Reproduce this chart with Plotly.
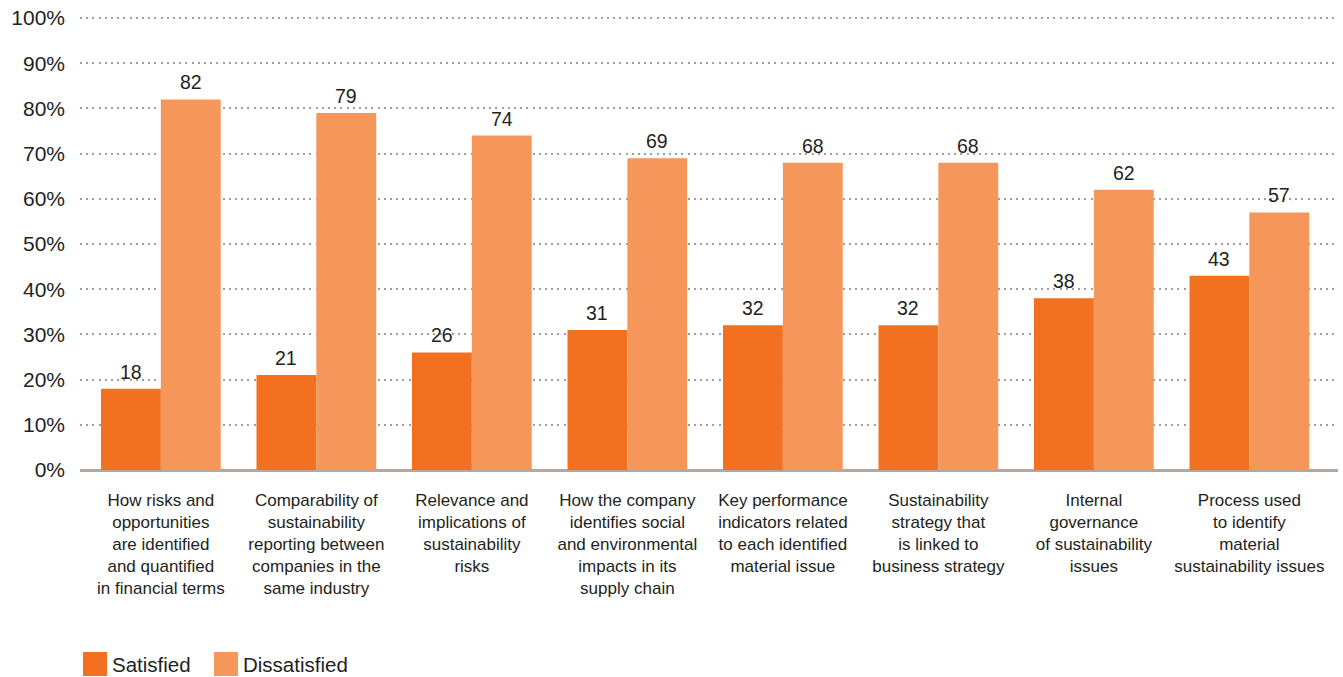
import plotly.graph_objects as go

categories = [
    "How risks and<br>opportunities<br>are identified<br>and quantified<br>in financial terms",
    "Comparability of<br>sustainability<br>reporting between<br>companies in the<br>same industry",
    "Relevance and<br>implications of<br>sustainability<br>risks",
    "How the company<br>identifies social<br>and environmental<br>impacts in its<br>supply chain",
    "Key performance<br>indicators related<br>to each identified<br>material issue",
    "Sustainability<br>strategy that<br>is linked to<br>business strategy",
    "Internal<br>governance<br>of sustainability<br>issues",
    "Process used<br>to identify<br>material<br>sustainability issues",
]
satisfied = [18, 21, 26, 31, 32, 32, 38, 43]
dissatisfied = [82, 79, 74, 69, 68, 68, 62, 57]
series_names = ["Satisfied", "Dissatisfied"]
colors = ["#F37021", "#F5965A"]
y_ticks = list(range(0, 101, 10))
y_tick_labels = [f"{t}%" for t in y_ticks]

FONT = "Liberation Sans, Arial, Helvetica, sans-serif"
TXT = "#231F20"
BARGAP = 0.23
half = (1 - BARGAP) / 4  # centre offset of each bar in a group

fig = go.Figure()
xs = list(range(len(categories)))
for k, (name, vals, col) in enumerate(zip(series_names, [satisfied, dissatisfied], colors)):
    fig.add_trace(go.Bar(
        x=xs, y=vals, name=name,
        marker=dict(color=col, line=dict(width=0)),
        showlegend=False, hoverinfo="y+name",
    ))
    off = -half if k == 0 else half
    for i, v in zip(xs, vals):
        fig.add_annotation(x=i + off, y=v, text=str(v), showarrow=False,
                           xanchor="center", yanchor="bottom", yshift=4,
                           font=dict(size=19.5, color=TXT, family=FONT))

fig.update_layout(
    width=1343, height=677,
    margin=dict(l=80, r=5, t=16, b=207),
    paper_bgcolor="white", plot_bgcolor="white",
    barmode="group", bargap=BARGAP, bargroupgap=0,
    font=dict(family=FONT, color=TXT),
    xaxis=dict(
        tickmode="array", tickvals=xs, ticktext=categories,
        range=[-0.52, 7.57], showgrid=False, zeroline=False, showline=False,
        tickfont=dict(size=17, color=TXT, family=FONT), tickangle=0,
        ticks="", ticklabelstandoff=18,
    ),
    yaxis=dict(
        range=[0, 100.45], tickmode="array", tickvals=y_ticks, ticktext=y_tick_labels,
        showgrid=True, gridcolor="#A89D95", gridwidth=2, griddash="2px,4.2px",
        zeroline=True, zerolinecolor="#B3A79F", zerolinewidth=3,
        showline=False, ticks="",
        tickfont=dict(size=21, color=TXT, family=FONT), ticklabelstandoff=14,
    ),
)

# legend keys with their text
PW, PH = 1258, 454
legend_items = [(3 / PW, series_names[0], colors[0]), (134 / PW, series_names[1], colors[1])]
for x0, name, col in legend_items:
    fig.add_shape(type="rect", xref="paper", yref="paper",
                  x0=x0, x1=x0 + 24 / PW, y0=-182 / PH, y1=-206 / PH,
                  fillcolor=col, line=dict(width=0))
    fig.add_annotation(xref="paper", yref="paper", x=x0 + 27 / PW, y=-194 / PH,
                       text=name, showarrow=False, xanchor="left", yanchor="middle",
                       font=dict(size=20.5, color=TXT, family=FONT))

fig.write_html("out.html", config={"displayModeBar": False},
               post_script="document.body.style.margin='0';")
